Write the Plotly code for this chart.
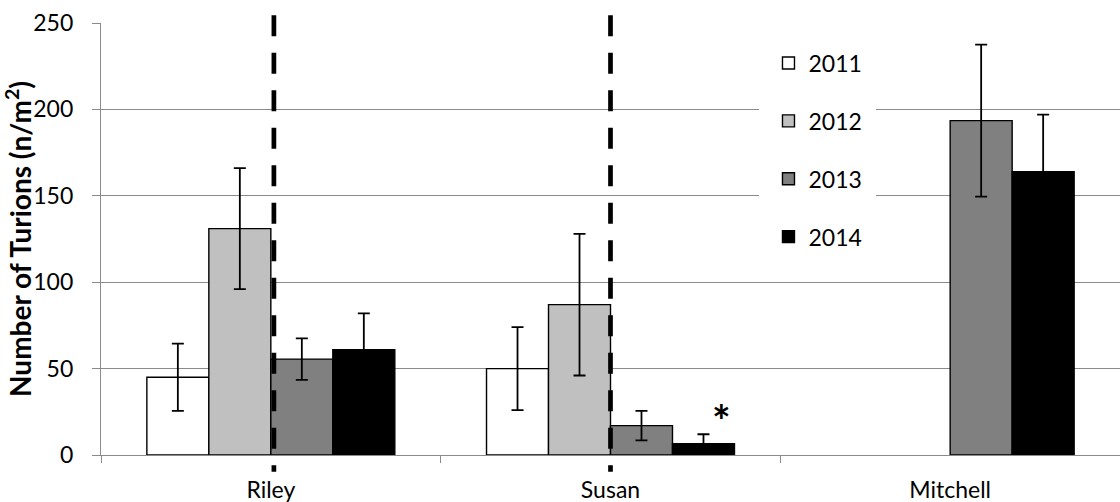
import plotly.graph_objects as go

# Turion density (n/m²) per site and survey year, with error bar half-widths
sites = ["Riley", "Susan", "Mitchell"]
years = ["2011", "2012", "2013", "2014"]

turions_2011 = [45, 50, None]
turions_2012 = [131, 87, None]
turions_2013 = [55.5, 17, 193.5]
turions_2014 = [61, 6.5, 164]

err_2011 = [19.5, 24, None]
err_2012 = [35, 41, None]
err_2013 = [12, 8.5, 44]
err_2014 = [21, 5.5, 33]

values = [turions_2011, turions_2012, turions_2013, turions_2014]
errors = [err_2011, err_2012, err_2013, err_2014]
fills = ["#ffffff", "#c0c0c0", "#808080", "#000000"]

FONT = "Lato"
AXIS_GREY = "#8a8a8a"
BARGAP = 0.27

fig = go.Figure()
for yr, vals, errs, col in zip(years, values, errors, fills):
    fig.add_trace(go.Bar(
        name=yr,
        x=sites,
        y=vals,
        legendgroup=yr,
        marker=dict(color=col, line=dict(color="#000000", width=1.4)),
        error_y=dict(type="data", array=errs, visible=True,
                     color="#000000", thickness=1.8, width=6),
    ))

# Vertical dashed dividers at the Riley and Susan sites
divider_sites = [0, 1]
divider_nudge = [0.009, 0.0]
shapes = []
for idx, nudge in zip(divider_sites, divider_nudge):
    xp = (idx + 0.5 + nudge) / len(sites)
    shapes.append(dict(
        type="line", xref="paper", yref="paper",
        x0=xp, x1=xp, y0=1.018, y1=-0.039,
        line=dict(color="#000000", width=4.7, dash="21px,16.5px"),
        layer="above",
    ))

# Significance marker above the Susan 2014 bar
bar_w = (1 - BARGAP) / len(years)
star_site = 1
star_year = 3
star_x = star_site + (star_year - 1.5) * bar_w
star_y = turions_2014[star_site] + err_2014[star_site]

fig.update_layout(
    width=1120,
    height=502,
    margin=dict(l=101, r=0, t=23, b=47),
    barmode="group",
    bargap=BARGAP,
    bargroupgap=0,
    plot_bgcolor="#ffffff",
    paper_bgcolor="#ffffff",
    font=dict(family=FONT, size=23, color="#000000"),
    shapes=shapes,
    annotations=[dict(
        x=star_x, y=star_y, xref="x", yref="y",
        text="<b>*</b>", showarrow=False,
        xanchor="center", yanchor="bottom",
        xshift=18, yshift=-14,
        font=dict(family=FONT, size=44, color="#000000"),
    )],
    legend=dict(
        x=0.6462, y=0.978, xanchor="left", yanchor="top",
        bgcolor="#ffffff", bordercolor="#ffffff", borderwidth=9,
        tracegroupgap=25,
        font=dict(family=FONT, size=23, color="#000000"),
        traceorder="grouped",
    ),
    xaxis=dict(
        type="category",
        range=[-0.5, 2.5],
        showgrid=False,
        showline=True, linecolor=AXIS_GREY, linewidth=1.3,
        ticks="outside", tickson="boundaries", ticklen=7,
        tickcolor=AXIS_GREY, tickwidth=1.3,
        ticklabelstandoff=14,
    ),
    yaxis=dict(
        range=[0, 250],
        dtick=50,
        showgrid=True, gridcolor=AXIS_GREY, gridwidth=1.3,
        zeroline=False,
        showline=True, linecolor=AXIS_GREY, linewidth=1.3,
        ticks="outside", ticklen=8, tickcolor=AXIS_GREY, tickwidth=1.3,
        ticklabelstandoff=14,
        title=dict(
            text="<b>Number of Turions (n/m<sup>2</sup>)</b>",
            font=dict(family=FONT, size=28, color="#000000"),
            standoff=0,
        ),
    ),
)

fig.write_html("out.html")
